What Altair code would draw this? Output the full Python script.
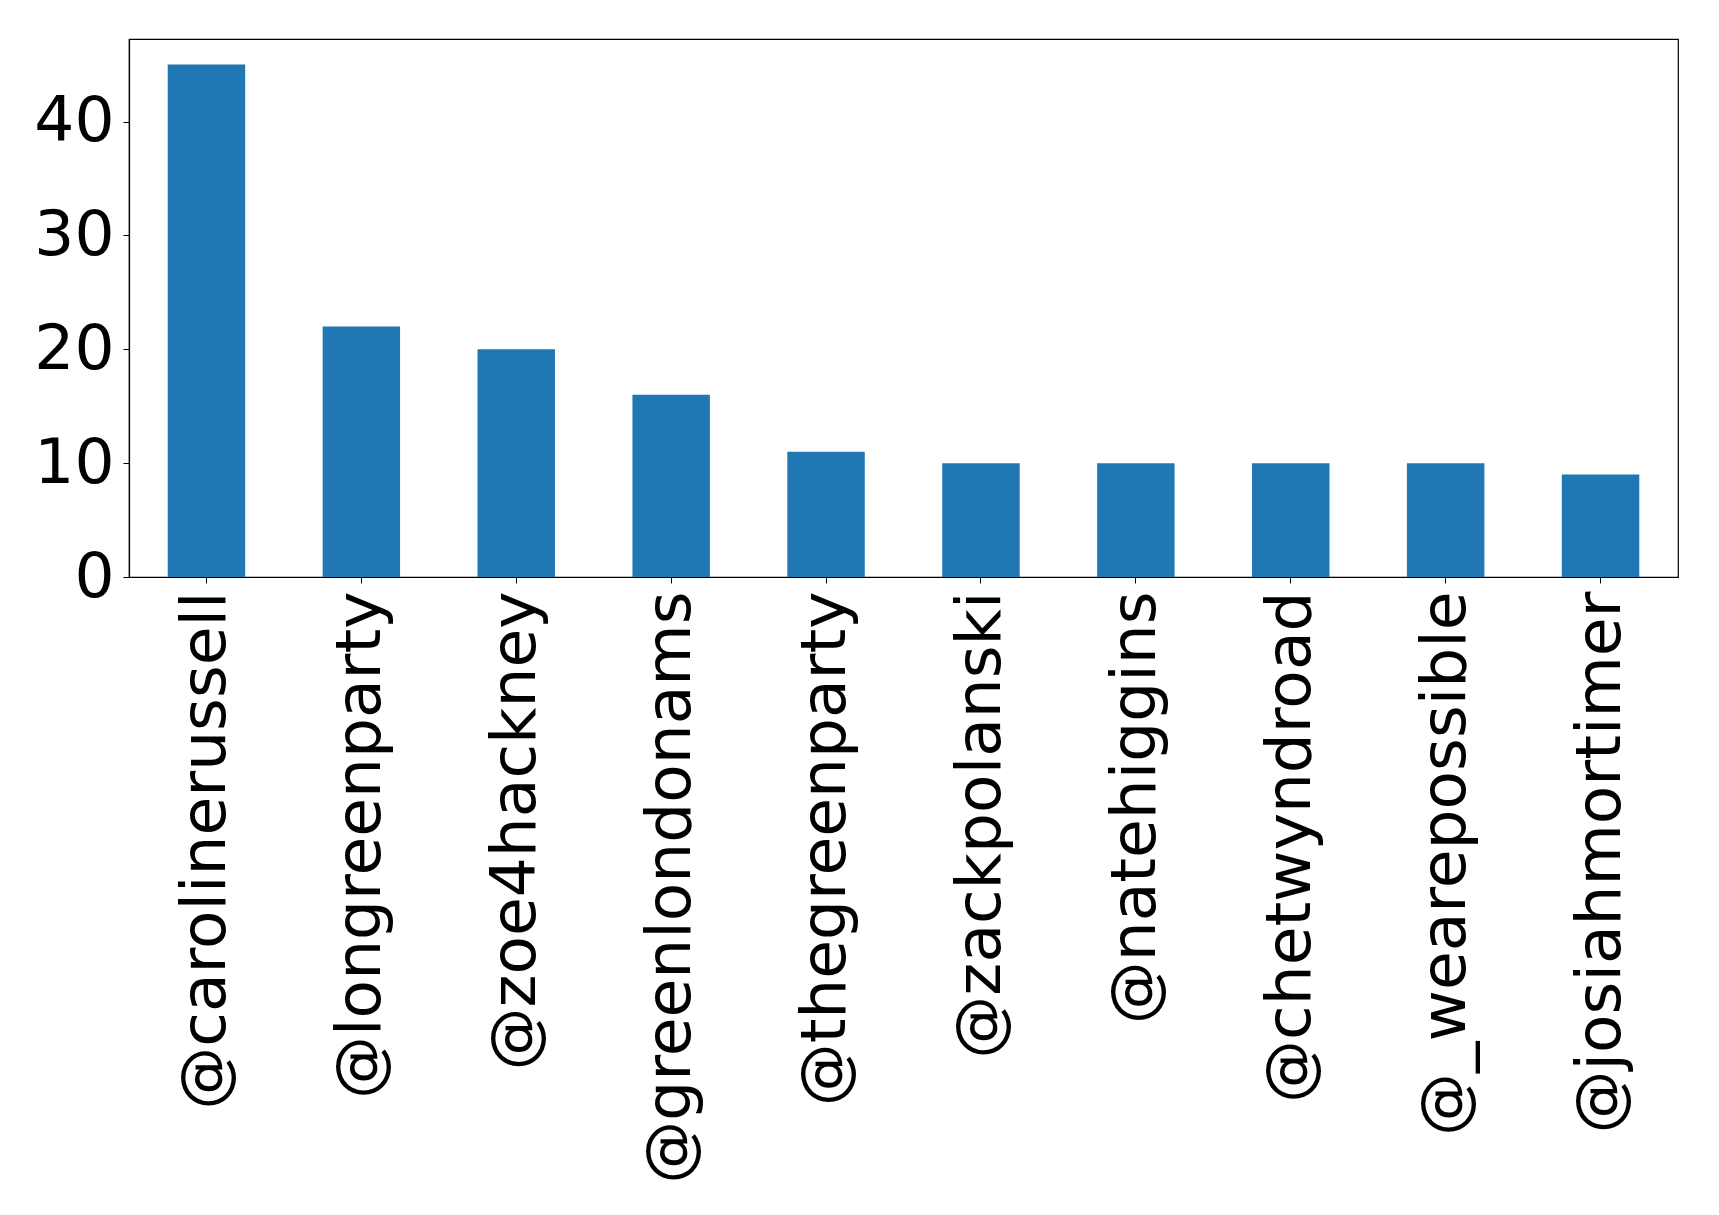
import altair as alt
import pandas as pd

handles = [
    "@carolinerussell", "@longreenparty", "@zoe4hackney", "@greenlondonams",
    "@thegreenparty", "@zackpolanski", "@natehiggins", "@chetwyndroad",
    "@_wearepossible", "@josiahmortimer",
]
counts = [45, 22, 20, 16, 11, 10, 10, 10, 10, 9]
y_ticks = [0, 10, 20, 30, 40]

df = pd.DataFrame({"handle": handles, "count": counts})

FONT = "DejaVu Sans"
SIZE = 63

chart = (
    alt.Chart(df)
    .mark_bar(color="#1f77b4")
    .encode(
        x=alt.X(
            "handle:N",
            sort=handles,
            title=None,
            scale=alt.Scale(paddingInner=0.5, paddingOuter=0.25),
            axis=alt.Axis(
                labelAngle=270,
                labelAlign="right",
                labelBaseline="middle",
                labelFont=FONT,
                labelFontSize=SIZE,
                labelColor="black",
                labelPadding=8,
                labelLimit=0,
                tickColor="black",
                tickSize=6,
                domainColor="black",
                domainWidth=1.2,
            ),
        ),
        y=alt.Y(
            "count:Q",
            title=None,
            scale=alt.Scale(domain=[0, 47.25], nice=False, zero=True),
            axis=alt.Axis(
                values=y_ticks,
                grid=False,
                labelFont=FONT,
                labelFontSize=SIZE,
                labelColor="black",
                labelPadding=9,
                labelBaseline="middle",
                tickColor="black",
                tickSize=6,
                domainColor="black",
                domainWidth=1.2,
            ),
        ),
    )
    .properties(
        width=1549,
        height=538,
        autosize=alt.AutoSizeParams(type="none"),
        padding={"left": 129, "top": 39, "right": 41, "bottom": 638},
    )
    .configure(background="white")
    .configure_view(stroke="black", strokeWidth=1.2)
)

chart.save("out.html", embed_options={"renderer": "svg", "actions": False})
